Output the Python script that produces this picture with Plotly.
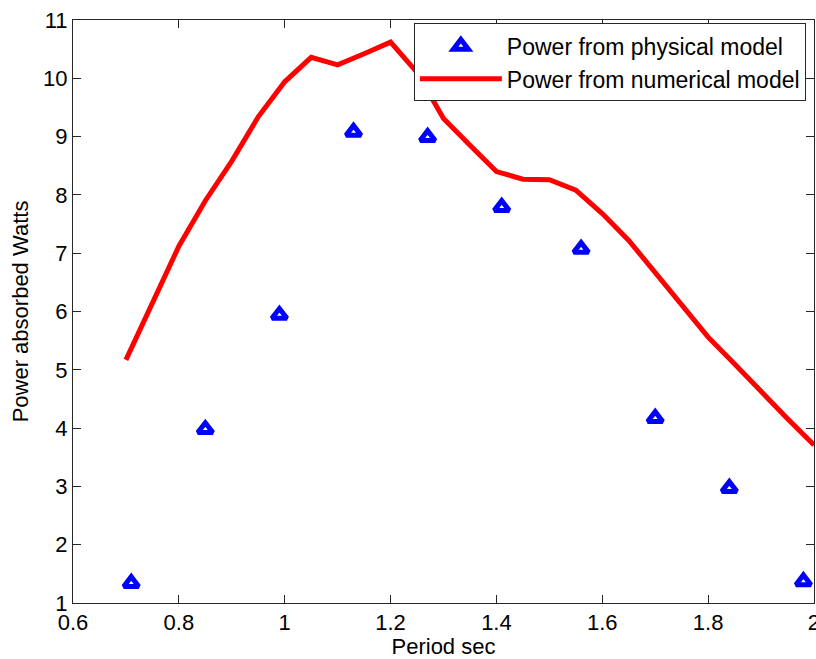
import plotly.graph_objects as go

# Measured power from the physical (tank) model
period_phys = [0.71, 0.85, 0.99, 1.13, 1.27, 1.41, 1.56, 1.70, 1.84, 1.98]
power_phys = [1.34, 3.98, 5.94, 9.08, 8.99, 7.79, 7.07, 4.17, 2.97, 1.37]

# Power predicted by the numerical model
period_num = [0.70, 0.75, 0.80, 0.85, 0.90, 0.95, 1.00, 1.05, 1.10, 1.15,
              1.20, 1.25, 1.30, 1.35, 1.40, 1.45, 1.50, 1.55, 1.60, 1.65,
              1.70, 1.75, 1.80, 1.85, 1.90, 1.95, 2.00]
power_num = [5.17, 6.12, 7.12, 7.90, 8.58, 9.34, 9.94, 10.36, 10.23, 10.42,
             10.62, 10.10, 9.31, 8.85, 8.40, 8.27, 8.26, 8.08, 7.68, 7.22,
             6.66, 6.10, 5.56, 5.10, 4.62, 4.16, 3.71]

x_ticks = [0.6, 0.8, 1.0, 1.2, 1.4, 1.6, 1.8, 2.0]
x_labels = ["0.6", "0.8", "1", "1.2", "1.4", "1.6", "1.8", "2"]
y_ticks = list(range(1, 12))

FONT = "Liberation Sans, Arial, sans-serif"
FS = 22

fig = go.Figure()
fig.add_trace(go.Scatter(
    x=period_phys, y=power_phys, mode="markers",
    name="Power from physical model",
    marker=dict(symbol="triangle-up-open", size=13, color="#0000ff",
                line=dict(width=5, color="#0000ff")),
))
fig.add_trace(go.Scatter(
    x=period_num, y=power_num, mode="lines",
    name="Power from numerical model",
    line=dict(color="#ff0000", width=5),
))

axis_common = dict(
    showline=True, linecolor="#262626", linewidth=1, mirror="ticks",
    ticks="inside", ticklen=8, tickcolor="#262626", tickwidth=1,
    showgrid=False, zeroline=False, ticklabeloverflow="allow",
    tickfont=dict(family=FONT, size=FS, color="#000000"),
)

fig.update_layout(
    width=816, height=659,
    margin=dict(l=73, r=2, t=20, b=56, autoexpand=False),
    paper_bgcolor="white", plot_bgcolor="white",
    font=dict(family=FONT, size=FS, color="#000000"),
    xaxis=dict(range=[0.6, 2.00001], tickvals=x_ticks, ticktext=x_labels,
               automargin=False,
               title=dict(text="Period sec", standoff=4,
                          font=dict(family=FONT, size=FS)),
               **axis_common),
    yaxis=dict(range=[1, 11], tickvals=y_ticks, automargin=False,
               title=dict(text="Power absorbed Watts", standoff=8,
                          font=dict(family=FONT, size=FS)),
               **axis_common),
    legend=dict(x=0.4600, y=0.994, xanchor="left", yanchor="top",
                bgcolor="white", bordercolor="#262626", borderwidth=1,
                itemwidth=82, tracegroupgap=0,
                font=dict(family=FONT, size=23, color="#000000")),
    showlegend=True,
)

fig.write_html("out.html")
